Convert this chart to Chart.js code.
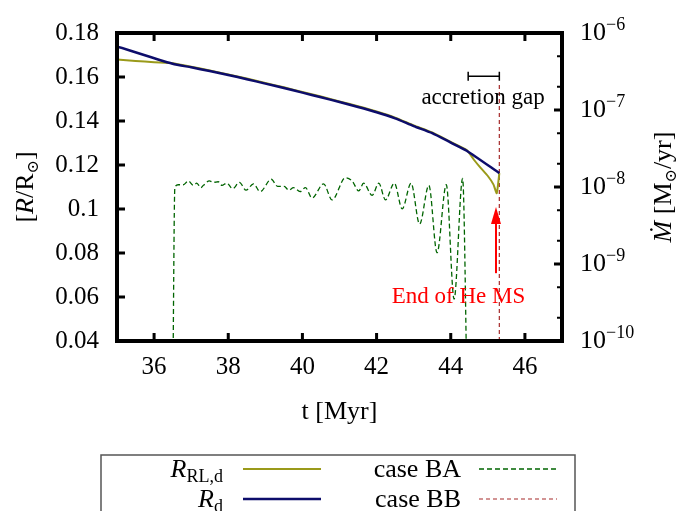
<!DOCTYPE html>
<html>
<head>
<meta charset="utf-8">
<script src="https://cdn.jsdelivr.net/npm/chart.js@4.4.1/dist/chart.umd.min.js"></script>
<style>
  html, body { margin: 0; padding: 0; background: #fff; }
  #wrap { width: 687px; height: 511px; }
</style>
</head>
<body>
<div id="wrap"><canvas id="grafico"></canvas></div>
<script>
// ---- data ----
// donor radius (R_d) and Roche-lobe radius (R_RL,d), in R_sun, vs time in Myr
const rdTime   = [35, 36.5, 37, 37.5, 38, 38.5, 39, 39.5, 40, 40.5, 41, 41.5, 42, 42.5, 43, 43.5, 44, 44.43, 45.31];
const rdRadius = [0.1739, 0.1660, 0.1644, 0.1627, 0.1609, 0.1590, 0.1570, 0.1550, 0.1529, 0.1508, 0.1486, 0.1464, 0.1440, 0.1412, 0.1377, 0.1345, 0.1302, 0.1265, 0.1163];

const rlTime   = [35, 35.5, 36, 36.5, 37, 37.5, 38, 38.5, 39, 39.5, 40, 40.5, 41, 41.5, 42, 42.5, 43, 43.5, 44, 44.43, 44.62, 44.8, 45.0, 45.15, 45.24, 45.31];
const rlRadius = [0.1679, 0.1673, 0.1667, 0.1663, 0.1647, 0.1630, 0.1612, 0.1593, 0.1573, 0.1553, 0.1532, 0.1511, 0.1489, 0.1467, 0.1443, 0.1415, 0.1380, 0.1348, 0.1305, 0.1268, 0.1225, 0.1188, 0.1150, 0.1112, 0.1072, 0.1163];

// mass transfer rate, case BA (M_sun/yr)
const baTime = [36.50, 36.56, 36.65, 36.79, 36.92, 37.06, 37.15, 37.26, 37.33, 37.49, 37.60, 37.73, 37.83, 37.96,
                38.12, 38.30, 38.48, 38.68, 38.86, 39.16, 39.33, 39.51, 39.63, 39.76, 39.94, 40.08, 40.26, 40.57,
                40.80, 41.16, 41.34, 41.52, 41.65, 41.88, 42.06, 42.24, 42.48, 42.69, 42.93, 43.16, 43.41, 43.63,
                43.88, 44.09, 44.32, 44.45];
const baRate = [1e-11, 9.8e-9, 1.07e-8, 1.07e-8, 1.20e-8, 1.05e-8, 1.12e-8, 9.8e-9, 1.05e-8, 1.20e-8, 1.15e-8, 1.17e-8, 1.05e-8, 1.12e-8,
                9.5e-9, 1.15e-8, 9.1e-9, 1.10e-8, 8.7e-9, 1.26e-8, 1.02e-8, 1.02e-8, 9.1e-9, 9.8e-9, 8.7e-9, 9.8e-9, 7.2e-9, 1.10e-8,
                6.8e-9, 1.32e-8, 1.20e-8, 8.9e-9, 1.12e-8, 7.8e-9, 1.12e-8, 6.8e-9, 1.12e-8, 5.2e-9, 1.12e-8, 3.3e-9, 1.05e-8, 1.4e-9,
                1.07e-8, 3.5e-10, 1.29e-8, 1e-11];

// case BB starts right at the end of the He main sequence
const bbTime = [45.31, 45.31];
const bbRate = [1e-11, 2.3e-7];

// axes
const xTicks = [36, 38, 40, 42, 44, 46];
const xTickLabels = ['36', '38', '40', '42', '44', '46'];
const yTicks = [0.04, 0.06, 0.08, 0.10, 0.12, 0.14, 0.16, 0.18];
const yTickLabels = ['0.04', '0.06', '0.08', '0.1', '0.12', '0.14', '0.16', '0.18'];
const y2Decades = [1e-10, 1e-9, 1e-8, 1e-7, 1e-6];
const y2Exponents = ['\u221210', '\u22129', '\u22128', '\u22127', '\u22126'];
const y2Minor = [2, 5];

// annotations
const gapStart = 44.47, gapEnd = 45.31, gapLevel = 2.74e-7;
const gapLabel = { text: 'accretion gap', x: 44.87, y: 1.2e-7 };
const arrowX = 45.22, arrowFrom = 7.6e-10, arrowTo = 5.5e-9;
const msLabel = { text: 'End of He MS', x: 44.21, y: 3.1e-10 };

const SERIF = '"Liberation Serif", "DejaVu Serif", serif';
const OLIVE = '#9a9a1a', NAVY = '#0d0d6b', GREEN = '#006400', BROWN = '#a52a2a';

const pts = (xs, ys) => xs.map((x, i) => ({ x: x, y: ys[i] }));

// draw a run of text pieces (font, offset) one after the other
function richWidth(ctx, parts) {
    let w = 0;
    parts.forEach(p => { ctx.font = p.font; w += ctx.measureText(p.text).width; });
    return w;
}
function richText(ctx, parts, x, y) {
    parts.forEach(p => {
        ctx.font = p.font;
        ctx.fillText(p.text, x, y + (p.dy || 0));
        x += ctx.measureText(p.text).width;
    });
}

const up = s => s + 'px ' + SERIF;
const it = s => 'italic ' + s + 'px ' + SERIF;

const leftTitle  = [{ text: '[', font: up(26) }, { text: 'R', font: it(26) }, { text: '/R', font: up(26) },
                    { text: '\u2299', font: up(16), dy: 5 }, { text: ']', font: up(26) }];
const rightTitle = [{ text: '\u1E40', font: it(26) }, { text: ' [M', font: up(26) },
                    { text: '\u2299', font: up(16), dy: 5 }, { text: '/yr]', font: up(26) }];

const framePlugin = {
    id: 'frame',
    afterDatasetsDraw(chart) {
        const { ctx, chartArea: a, scales: { x, y, y2 } } = chart;
        ctx.save();

        // annotations
        ctx.strokeStyle = '#000';
        ctx.lineWidth = 1.5;
        const gy = y2.getPixelForValue(gapLevel);
        const g1 = x.getPixelForValue(gapStart), g2 = x.getPixelForValue(gapEnd);
        ctx.beginPath();
        ctx.moveTo(g1, gy); ctx.lineTo(g2, gy);
        ctx.moveTo(g1, gy - 4.5); ctx.lineTo(g1, gy + 4.5);
        ctx.moveTo(g2, gy - 4.5); ctx.lineTo(g2, gy + 4.5);
        ctx.stroke();
        ctx.fillStyle = '#000';
        ctx.font = up(23);
        ctx.textAlign = 'center';
        ctx.textBaseline = 'alphabetic';
        ctx.fillText(gapLabel.text, x.getPixelForValue(gapLabel.x), y2.getPixelForValue(gapLabel.y));

        const ax = x.getPixelForValue(arrowX);
        const aTail = y2.getPixelForValue(arrowFrom), aTip = y2.getPixelForValue(arrowTo);
        ctx.strokeStyle = '#ff0000';
        ctx.fillStyle = '#ff0000';
        ctx.lineWidth = 2;
        ctx.beginPath();
        ctx.moveTo(ax, aTail); ctx.lineTo(ax, aTip + 14);
        ctx.stroke();
        ctx.beginPath();
        ctx.moveTo(ax, aTip); ctx.lineTo(ax - 5, aTip + 17); ctx.lineTo(ax + 5, aTip + 17);
        ctx.closePath();
        ctx.fill();
        ctx.font = up(23);
        ctx.fillText(msLabel.text, x.getPixelForValue(msLabel.x), y2.getPixelForValue(msLabel.y));

        // frame
        ctx.strokeStyle = '#000';
        ctx.lineWidth = 4;
        ctx.strokeRect(a.left, a.top, a.right - a.left, a.bottom - a.top);

        // inward ticks
        ctx.lineWidth = 3;
        ctx.beginPath();
        xTicks.forEach(v => {
            const px = x.getPixelForValue(v);
            ctx.moveTo(px, a.bottom); ctx.lineTo(px, a.bottom - 8);
            ctx.moveTo(px, a.top); ctx.lineTo(px, a.top + 8);
        });
        yTicks.forEach(v => {
            const py = y.getPixelForValue(v);
            ctx.moveTo(a.left, py); ctx.lineTo(a.left + 8, py);
        });
        y2Decades.forEach(v => {
            const py = y2.getPixelForValue(v);
            ctx.moveTo(a.right, py); ctx.lineTo(a.right - 8, py);
        });
        ctx.stroke();
        ctx.lineWidth = 2;
        ctx.beginPath();
        y2Decades.slice(0, -1).forEach(v => {
            y2Minor.forEach(m => {
                const py = y2.getPixelForValue(v * m);
                ctx.moveTo(a.right, py); ctx.lineTo(a.right - 5, py);
            });
        });
        ctx.stroke();

        // right axis labels 10^n
        ctx.fillStyle = '#000';
        ctx.textAlign = 'left';
        ctx.textBaseline = 'middle';
        y2Decades.forEach((v, i) => {
            const py = y2.getPixelForValue(v);
            ctx.font = up(26);
            ctx.fillText('10', a.right + 18, py);
            const w = ctx.measureText('10').width;
            ctx.font = up(18);
            ctx.fillText(y2Exponents[i], a.right + 18 + w, py - 8);
        });

        // axis titles (rotated)
        ctx.textBaseline = 'alphabetic';
        const cy = (a.top + a.bottom) / 2;
        [[leftTitle, 24], [rightTitle, a.right + 100]].forEach(([parts, cx]) => {
            ctx.save();
            ctx.translate(cx, cy);
            ctx.rotate(-Math.PI / 2);
            richText(ctx, parts, -richWidth(ctx, parts) / 2, 9);
            ctx.restore();
        });

        // key
        const ds = chart.data.datasets;
        ctx.strokeStyle = '#555';
        ctx.lineWidth = 1.5;
        ctx.strokeRect(101, 455, 474, 80);
        const rows = [469, 499];
        const keys = [
            { parts: [{ text: 'R', font: it(26) }, { text: 'RL,d', font: up(18), dy: 5 }], ds: ds[1], col: 0, row: 0 },
            { parts: [{ text: 'R', font: it(26) }, { text: 'd', font: up(18), dy: 5 }], ds: ds[0], col: 0, row: 1 },
            { parts: [{ text: 'case BA', font: up(26) }], ds: ds[2], col: 1, row: 0 },
            { parts: [{ text: 'case BB', font: up(26) }], ds: ds[3], col: 1, row: 1 }
        ];
        const cols = [{ textRight: 223, lineFrom: 243, lineTo: 321 }, { textRight: 461, lineFrom: 479, lineTo: 557 }];
        keys.forEach(k => {
            const c = cols[k.col], ry = rows[k.row];
            ctx.fillStyle = '#000';
            richText(ctx, k.parts, c.textRight - richWidth(ctx, k.parts), ry + 8);
            ctx.strokeStyle = k.ds.borderColor;
            ctx.lineWidth = k.ds.borderWidth;
            ctx.setLineDash(k.ds.borderDash || []);
            ctx.beginPath();
            ctx.moveTo(c.lineFrom, ry); ctx.lineTo(c.lineTo, ry);
            ctx.stroke();
            ctx.setLineDash([]);
        });

        ctx.restore();
    }
};

new Chart(document.getElementById('grafico'), {
    type: 'line',
    data: {
        datasets: [
            { label: 'R_d', data: pts(rdTime, rdRadius), yAxisID: 'y', borderColor: NAVY, borderWidth: 2.5, pointRadius: 0, tension: 0.2, fill: false },
            { label: 'R_RL,d', data: pts(rlTime, rlRadius), yAxisID: 'y', borderColor: OLIVE, borderWidth: 2, pointRadius: 0, tension: 0.2, fill: false },
            { label: 'case BA', data: pts(baTime, baRate), yAxisID: 'y2', borderColor: GREEN, borderWidth: 1.3, borderDash: [5, 3], pointRadius: 0, cubicInterpolationMode: 'monotone', fill: false },
            { label: 'case BB', data: pts(bbTime, bbRate), yAxisID: 'y2', borderColor: BROWN, borderWidth: 1.2, borderDash: [4, 3], pointRadius: 0, fill: false }
        ]
    },
    options: {
        responsive: true,
        maintainAspectRatio: false,
        animation: false,
        devicePixelRatio: 1,
        layout: { padding: { top: 28, bottom: 75, left: 0, right: 0 } },
        plugins: { legend: { display: false }, tooltip: { enabled: false } },
        scales: {
            x: {
                type: 'linear', min: 35, max: 47,
                afterBuildTicks: s => { s.ticks = xTicks.map(v => ({ value: v })); },
                afterFit: s => { s.height = 95; },
                grid: { display: false, drawTicks: false },
                border: { display: false },
                ticks: { color: '#000', font: { family: SERIF, size: 25, lineHeight: 1 }, padding: 14, maxRotation: 0,
                         callback: (v, i) => xTickLabels[i] },
                title: { display: true, text: 't [Myr]', color: '#000', font: { family: SERIF, size: 26, lineHeight: 1 },
                         padding: { top: 0, bottom: 11 } }
            },
            y: {
                position: 'left', min: 0.04, max: 0.18,
                afterBuildTicks: s => { s.ticks = yTicks.map(v => ({ value: v })); },
                afterFit: s => { s.width = 117; },
                grid: { display: false, drawTicks: false },
                border: { display: false },
                ticks: { color: '#000', font: { family: SERIF, size: 25 }, padding: 18,
                         callback: (v, i) => yTickLabels[i] }
            },
            y2: {
                type: 'logarithmic', position: 'right', min: 1e-10, max: 1e-6,
                afterFit: s => { s.width = 125; },
                grid: { display: false, drawTicks: false },
                border: { display: false },
                ticks: { display: false }
            }
        }
    },
    plugins: [framePlugin]
});
</script>
</body>
</html>
